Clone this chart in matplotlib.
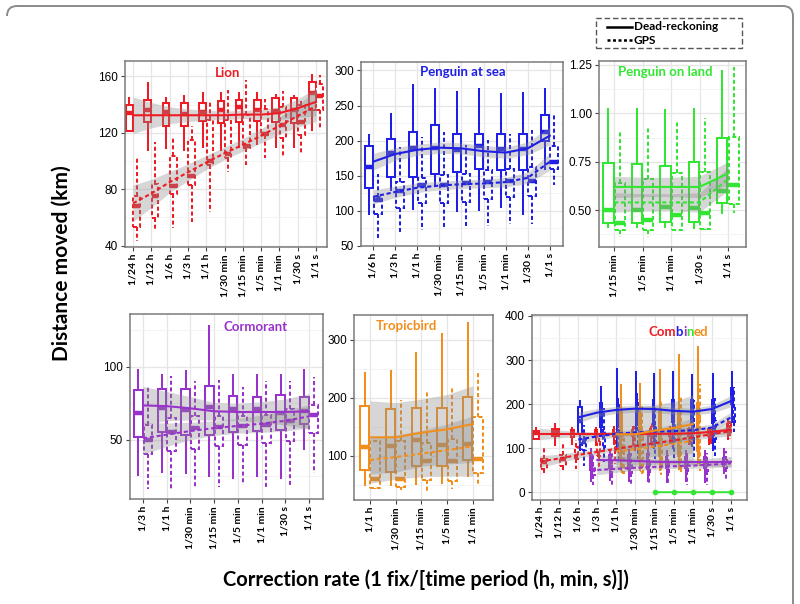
import matplotlib

matplotlib.use("Agg")
import matplotlib.pyplot as plt
from matplotlib.patches import Rectangle, PathPatch
from matplotlib.path import Path
from matplotlib.lines import Line2D

RED = "#ee1c25"
BLUE = "#1f1fe6"
GREEN = "#33e633"
PURPLE = "#9932cc"
ORANGE = "#f28e1c"
GPS_LS = (0, (2.0, 1.3))
LW = 1.45
W, H = 800, 604

plt.rcParams.update({
    "font.family": ["Lato", "DejaVu Sans"],
    "axes.edgecolor": "#7a7a7a",
    "axes.linewidth": 1.1,
})

RATES = ["1/24 h", "1/12 h", "1/6 h", "1/3 h", "1/1 h", "1/30 min",
         "1/15 min", "1/5 min", "1/1 min", "1/30 s", "1/1 s"]

# rows: whisker low, q1, median, q3, whisker high
LION_CATS = RATES
LION_DR = [
    [121, 121, 134, 140, 145], [108, 128, 136, 143, 155.5],
    [109, 125, 135, 141, 145], [108, 125, 133.5, 141, 146],
    [110, 128.5, 135, 141.5, 148], [108, 127, 136.5, 142.5, 148],
    [110, 128, 138, 143, 148], [112, 128.5, 136.5, 143.5, 148],
    [110, 128, 135.5, 144.5, 147], [110, 127, 136, 144.5, 146.5],
    [122, 136, 148, 156, 161],
]
LION_GPS = [
    [43, 53.5, 68, 75, 102], [50, 59.5, 75, 84, 113.5],
    [52.5, 76.5, 82.5, 103.5, 118], [57, 83, 89.5, 115, 125],
    [64, 97, 100, 129, 143], [92.5, 102.5, 105, 129, 150.5],
    [97, 109, 111, 132.5, 157.5], [102.5, 118.5, 119.5, 137, 144],
    [103, 116.5, 125.5, 138, 150], [105, 118.5, 128, 139.5, 143],
    [122, 136, 146, 155, 161],
]
LION_FIT_DR = [132.5, 132.5, 132.5, 132.5, 132.5, 132.5, 133, 133, 134, 137.5, 142]
LION_FIT_GPS = [70, 77, 85, 92, 99, 105.5, 111.5, 118, 125, 132, 139]
LION_BAND_DR = [13, 9, 6, 4.5, 3.5, 3, 3, 3.5, 4.5, 6.5, 10]
LION_BAND_GPS = [13, 10, 7.5, 6, 5, 4.5, 4.5, 5, 6, 8, 11]

SEA_CATS = ["1/6 h", "1/3 h", "1/1 h", "1/30 min", "1/15 min", "1/5 min",
            "1/1 min", "1/30 s", "1/1 s"]
SEA_DR = [
    [96, 132, 162, 193, 208], [130, 148, 182, 203, 238],
    [102, 148, 189, 212, 279], [135, 153, 189, 222, 274],
    [100, 156, 187, 209, 269], [101, 160, 192, 210, 274],
    [106, 158, 188, 210, 267], [96, 158, 188, 210, 268],
    [160, 200, 213, 237, 274],
]
SEA_GPS = [
    [61, 96, 115, 120, 152], [68, 104, 129, 141, 191],
    [73, 111, 137, 147, 205], [75, 111, 137, 151, 212],
    [75, 113, 139, 153, 194], [79, 117, 141, 158, 201],
    [81, 120, 142, 160, 210], [82, 121, 143, 163, 215],
    [137, 160, 169, 192, 240],
]
SEA_FIT_DR = [170, 181, 187, 190, 189, 185, 183, 189, 207]
SEA_FIT_GPS = [120, 127, 133, 136, 138, 139, 141, 147, 170]
SEA_BAND_DR = [12, 9, 8, 8, 8, 8, 8, 9, 13]
SEA_BAND_GPS = [10, 8, 7, 6, 6, 6, 7, 8, 12]

LAND_CATS = ["1/15 min", "1/5 min", "1/1 min", "1/30 s", "1/1 s"]
LAND_DR = [
    [0.414, 0.435, 0.503, 0.741, 1.02], [0.414, 0.435, 0.503, 0.736, 1.02],
    [0.414, 0.44, 0.517, 0.729, 1.017], [0.41, 0.44, 0.509, 0.747, 1.022],
    [0.483, 0.538, 0.60, 0.874, 1.22],
]
LAND_GPS = [
    [0.36, 0.40, 0.434, 0.641, 0.914], [0.36, 0.397, 0.448, 0.659, 0.934],
    [0.397, 0.40, 0.474, 0.69, 0.957], [0.40, 0.405, 0.483, 0.698, 0.974],
    [0.486, 0.534, 0.63, 0.879, 1.24],
]
LAND_FIT_DR = [0.62, 0.62, 0.62, 0.62, 0.69]
LAND_FIT_GPS = [0.54, 0.54, 0.54, 0.54, 0.66]
LAND_BAND_DR = [0.055, 0.05, 0.05, 0.055, 0.06]
LAND_BAND_GPS = [0.05, 0.045, 0.045, 0.05, 0.06]

CORM_CATS = ["1/3 h", "1/1 h", "1/30 min", "1/15 min", "1/5 min", "1/1 min",
             "1/30 s", "1/1 s"]
CORM_DR = [
    [26, 52, 68, 84, 98], [28, 55, 72, 84.5, 94],
    [27, 53, 70.5, 84.5, 97], [25.5, 53.5, 72.5, 87, 128],
    [24, 55, 71, 80, 94], [25, 56, 71, 79.5, 94],
    [24, 56.5, 68, 80.5, 94], [43.5, 61, 70, 79, 98],
]
CORM_GPS = [
    [16, 40, 50, 60, 86], [15.5, 42, 55.5, 65, 93.5],
    [18, 44, 58, 66, 90], [18, 45.5, 59, 66, 91],
    [19, 46.5, 59.5, 66, 86], [18, 48, 60, 67, 90.5],
    [18, 49, 62.5, 71, 90], [27, 54.5, 67, 74, 93],
]
CORM_FIT_DR = [73.5, 73, 71.5, 69.5, 69, 69, 69, 69.5]
CORM_FIT_GPS = [51, 53.5, 56, 58, 59.5, 61, 63, 66]
CORM_BAND_DR = [13, 10, 8, 6, 6, 7, 9, 12]
CORM_BAND_GPS = [11, 8, 6, 5, 5, 6, 7, 8]

TROP_CATS = ["1/1 h", "1/30 min", "1/15 min", "1/5 min", "1/1 min"]
TROP_DR = [
    [50, 76, 116, 186, 243], [50, 73, 117, 181, 246],
    [52, 83, 127, 182, 278], [54, 82, 119, 182, 311],
    [66, 93, 121, 202, 329],
]
TROP_GPS = [
    [43, 44, 61, 125, 127], [42, 46, 61, 125, 197],
    [39, 59, 92, 122, 210], [43, 56, 92, 130, 217],
    [48, 70, 95, 167, 245],
]
TROP_FIT_DR = [132, 132, 140, 146, 155]
TROP_FIT_GPS = [93, 98, 104, 110, 117]
TROP_BAND_DR = [63, 60, 58, 60, 66]
TROP_BAND_GPS = [40, 38, 40, 45, 52]


def fx(x):
    return x / W


def fy(y):
    return 1 - y / H


def make_axes(fig, x0, y0, x1, y1):
    return fig.add_axes([fx(x0), fy(y1), (x1 - x0) / W, (y1 - y0) / H])


def style(ax, cats, xlim, ylim, yticks, yminor, ylabels=None):
    ax.set_xlim(*xlim)
    ax.set_ylim(*ylim)
    ax.set_xticks(range(len(cats)))
    ax.set_xticklabels(cats, rotation=90, fontsize=7.5, fontweight="bold")
    ax.set_yticks(yticks)
    ax.set_yticks(yminor, minor=True)
    if ylabels is not None:
        ax.set_yticklabels(ylabels)
    for lab in ax.get_yticklabels():
        lab.set_family(["Liberation Sans", "DejaVu Sans"])
        lab.set_fontsize(8.5)
    ax.tick_params(axis="both", which="major", length=3, color="#444444", pad=2)
    ax.tick_params(axis="y", which="minor", length=0)
    ax.grid(which="major", color="#e6e6e6", linewidth=0.9, zorder=0)
    ax.grid(which="minor", axis="y", color="#f1f1f1", linewidth=0.6, zorder=0)
    ax.set_axisbelow(True)


def boxes(ax, rows, positions, widths, color, dashed):
    stats = [dict(whislo=r[0], q1=r[1], med=r[2], q3=r[3], whishi=r[4], fliers=[])
             for r in rows]
    ls = GPS_LS if dashed else "-"
    ax.bxp(stats, positions=positions, widths=widths, patch_artist=True,
           showcaps=False, showfliers=False, manage_ticks=False,
           boxprops=dict(facecolor="white", edgecolor=color, linewidth=LW, linestyle=ls),
           whiskerprops=dict(color=color, linewidth=LW, linestyle=ls),
           medianprops=dict(color=color, linewidth=3.2, solid_capstyle="butt"),
           zorder=2)


def fits(ax, xs, fit_dr, band_dr, fit_gps, band_gps, color):
    for fit, band, ls in ((fit_dr, band_dr, "-"), (fit_gps, band_gps, GPS_LS)):
        lo = [f - b for f, b in zip(fit, band)]
        hi = [f + b for f, b in zip(fit, band)]
        ax.fill_between(xs, lo, hi, color="#8c8c8c", alpha=0.35, linewidth=0, zorder=3)
        ax.plot(xs, fit, color=color, linewidth=1.5, linestyle=ls, zorder=4)


def species_panel(ax, cats, dr, gps, fit_dr, fit_gps, band_dr, band_gps, color):
    xs = list(range(len(cats)))
    boxes(ax, dr, [x - 0.2 for x in xs], 0.36, color, False)
    boxes(ax, gps, [x + 0.2 for x in xs], 0.36, color, True)
    fits(ax, xs, fit_dr, band_dr, fit_gps, band_gps, color)


def title(ax, x, y, text, color):
    ax.text(x, y, text, transform=ax.transAxes, ha="center", va="center",
            color=color, fontsize=9.5, fontweight="bold", zorder=6)


fig = plt.figure(figsize=(W / 100, H / 100), dpi=100)

# outer frame (only the top and right edges fall inside the picture)
frame = Path(
    [(fx(7), fy(16)), (fx(7), fy(6)), (fx(17), fy(6)), (fx(783), fy(6)),
     (fx(793), fy(6)), (fx(793), fy(16)), (fx(793), fy(604))],
    [Path.MOVETO, Path.CURVE3, Path.CURVE3, Path.LINETO, Path.CURVE3, Path.CURVE3,
     Path.LINETO],
)
fig.add_artist(PathPatch(frame, facecolor="none", edgecolor="#8a8a8a", lw=1.4,
                         transform=fig.transFigure))

# Lion
ax = make_axes(fig, 125, 61, 327, 247)
style(ax, LION_CATS, (-0.44, 10.6), (39, 171), [40, 80, 120, 160], [60, 100, 140])
species_panel(ax, LION_CATS, LION_DR, LION_GPS, LION_FIT_DR, LION_FIT_GPS,
              LION_BAND_DR, LION_BAND_GPS, RED)
title(ax, 0.51, 0.935, "Lion", RED)

# Penguin at sea
ax = make_axes(fig, 361, 62, 563, 246)
style(ax, SEA_CATS, (-0.55, 8.6), (51, 312), [50, 100, 150, 200, 250, 300],
      [75, 125, 175, 225, 275])
species_panel(ax, SEA_CATS, SEA_DR, SEA_GPS, SEA_FIT_DR, SEA_FIT_GPS,
              SEA_BAND_DR, SEA_BAND_GPS, BLUE)
title(ax, 0.505, 0.946, "Penguin at sea", BLUE)

# Penguin on land
ax = make_axes(fig, 599, 61, 746, 247)
style(ax, LAND_CATS, (-0.53, 4.63), (0.31, 1.27), [0.5, 0.75, 1.0, 1.25],
      [0.375, 0.625, 0.875, 1.125], ["0.50", "0.75", "1.00", "1.25"])
species_panel(ax, LAND_CATS, LAND_DR, LAND_GPS, LAND_FIT_DR, LAND_FIT_GPS,
              LAND_BAND_DR, LAND_BAND_GPS, GREEN)
title(ax, 0.45, 0.94, "Penguin on land", GREEN)

# Cormorant
ax = make_axes(fig, 130, 314, 323, 499)
style(ax, CORM_CATS, (-0.55, 7.59), (9.5, 136), [50, 100], [25, 75, 125])
species_panel(ax, CORM_CATS, CORM_DR, CORM_GPS, CORM_FIT_DR, CORM_FIT_GPS,
              CORM_BAND_DR, CORM_BAND_GPS, PURPLE)
title(ax, 0.648, 0.93, "Cormorant", PURPLE)

# Tropicbird
ax = make_axes(fig, 354, 315, 493, 500)
style(ax, TROP_CATS, (-0.62, 4.78), (24, 343), [100, 200, 300], [50, 150, 250])
species_panel(ax, TROP_CATS, TROP_DR, TROP_GPS, TROP_FIT_DR, TROP_FIT_GPS,
              TROP_BAND_DR, TROP_BAND_GPS, ORANGE)
title(ax, 0.38, 0.94, "Tropicbird", ORANGE)

# Combined
ax = make_axes(fig, 532, 315, 747, 500)
style(ax, RATES, (-0.42, 10.84), (-17, 402), [0, 100, 200, 300, 400],
      [50, 150, 250, 350])
species = [
    ("cormorant", CORM_CATS, CORM_DR, CORM_GPS, CORM_FIT_DR, CORM_FIT_GPS,
     CORM_BAND_DR, CORM_BAND_GPS, PURPLE),
    ("lion", LION_CATS, LION_DR, LION_GPS, LION_FIT_DR, LION_FIT_GPS,
     LION_BAND_DR, LION_BAND_GPS, RED),
    ("sea", SEA_CATS, SEA_DR, SEA_GPS, SEA_FIT_DR, SEA_FIT_GPS,
     SEA_BAND_DR, SEA_BAND_GPS, BLUE),
    ("land", LAND_CATS, LAND_DR, LAND_GPS, LAND_FIT_DR, LAND_FIT_GPS,
     LAND_BAND_DR, LAND_BAND_GPS, GREEN),
    ("tropic", TROP_CATS, TROP_DR, TROP_GPS, TROP_FIT_DR, TROP_FIT_GPS,
     TROP_BAND_DR, TROP_BAND_GPS, ORANGE),
]
slots = {}
for ci, cat in enumerate(RATES):
    present = [s[0] for s in species if cat in s[1]]
    n = 2 * len(present)
    step = 0.8 / n
    for k, name in enumerate(present):
        for m in range(2):
            pos = ci - 0.4 + step * (2 * k + m + 0.5)
            slots.setdefault((name, m), []).append((pos, step * 0.85))
for name, cats, dr, gps, fdr, fgps, bdr, bgps, color in species:
    xs = [RATES.index(c) for c in cats]
    if name == "land":
        ax.plot(xs, fdr, color=color, linewidth=1.4, marker="o", markersize=3,
                zorder=4)
        continue
    for m, rows in enumerate((dr, gps)):
        pos = [p for p, _ in slots[(name, m)]]
        wid = [w for _, w in slots[(name, m)]]
        boxes(ax, rows, pos, wid, color, m == 1)
    fits(ax, xs, fdr, bdr, fgps, bgps, color)

pieces = [("Com", RED), ("b", BLUE), ("i", PURPLE), ("n", GREEN), ("ed", ORANGE)]
renderer = fig.canvas.get_renderer()
texts = []
for txt, col in pieces:
    t = ax.text(0, 0.908, txt, transform=ax.transAxes, ha="left", va="center",
                color=col, fontsize=9.5, fontweight="bold", zorder=6)
    texts.append(t)
axw = ax.get_window_extent(renderer).width
widths = [t.get_window_extent(renderer).width / axw for t in texts]
x = 0.68 - sum(widths) / 2
for t, w in zip(texts, widths):
    t.set_x(x)
    x += w

# legend
fig.add_artist(Rectangle((fx(596), fy(48)), (742 - 596) / W, 30 / H,
                         transform=fig.transFigure, facecolor="white",
                         edgecolor="#555555", linestyle=(0, (4, 2)), lw=1.0))
fig.add_artist(Line2D([fx(607), fx(632)], [fy(27), fy(27)], color="black", lw=1.8))
fig.add_artist(Line2D([fx(607), fx(632)], [fy(40), fy(40)], color="black", lw=1.8,
                      linestyle=(0, (1.2, 1.0))))
fig.text(fx(634), fy(27), "Dead-reckoning", fontsize=8.5, fontweight="bold",
         va="center", ha="left")
fig.text(fx(634), fy(40), "GPS", fontsize=8.5, fontweight="bold", va="center",
         ha="left")

fig.text(fx(62), fy(263), "Distance moved (km)", rotation=90, fontsize=15,
         fontweight="bold", ha="center", va="center")
fig.text(fx(426), fy(580), "Correction rate (1 fix/[time period (h, min, s)])",
         fontsize=14.5, fontweight="bold", ha="center", va="center")

fig.savefig("out.png", dpi=100)
